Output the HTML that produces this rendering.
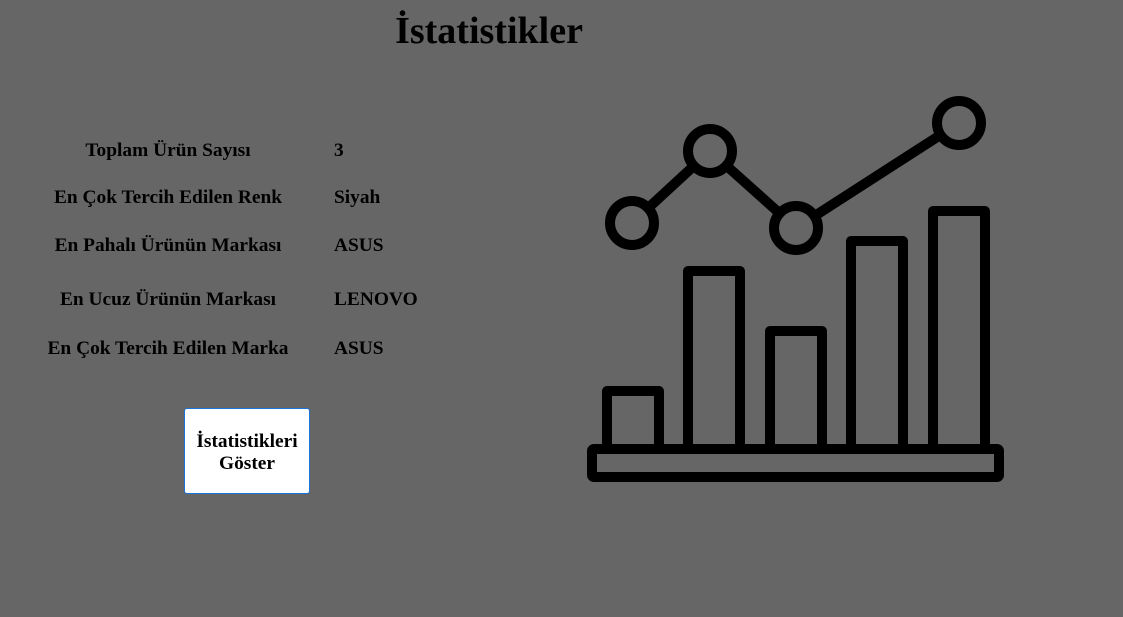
<!DOCTYPE html>
<html><head><meta charset="utf-8"><style>
body{margin:0;width:1123px;height:617px;background:#666666;font-family:"Liberation Serif",serif;color:#000;position:relative;overflow:hidden}
h1{position:absolute;left:0;width:978px;top:10px;margin:0;text-align:center;font-size:38px;font-weight:bold;line-height:42px}
.l{position:absolute;width:290px;left:23px;text-align:center;font-weight:bold;font-size:19.4px;line-height:22px}
.v{position:absolute;left:334px;font-weight:bold;font-size:19.4px;line-height:22px}
button{position:absolute;left:184px;top:408px;width:126px;height:86px;background:#fff;border:1px solid #1a73d9;border-radius:3px;font-family:"Liberation Serif",serif;font-weight:bold;font-size:19.4px;line-height:22px;padding:3px 0 0 0}
svg{position:absolute;left:0;top:0}
</style></head><body>
<h1>İstatistikler</h1>
<div class="l" style="top:140px">Toplam Ürün Sayısı</div>
<div class="v" style="top:140px">3</div>
<div class="l" style="top:187px">En Çok Tercih Edilen Renk</div>
<div class="v" style="top:187px">Siyah</div>
<div class="l" style="top:235px">En Pahalı Ürünün Markası</div>
<div class="v" style="top:235px">ASUS</div>
<div class="l" style="top:289px">En Ucuz Ürünün Markası</div>
<div class="v" style="top:289px">LENOVO</div>
<div class="l" style="top:338px">En Çok Tercih Edilen Marka</div>
<div class="v" style="top:338px">ASUS</div>
<button>İstatistikleri<br>Göster</button>
<svg id="icon" width="1123" height="617"></svg>
<script>
const barTops=[391,271,331,241,211];
const barLefts=[607,688,770,851,933];
const pointX=[632,710,796,959];
const pointY=[223,151,228,123];
const s=document.getElementById('icon');const NS='http://www.w3.org/2000/svg';
function mk(t,a){const e=document.createElementNS(NS,t);for(const k in a)e.setAttribute(k,a[k]);e.setAttribute('fill','none');e.setAttribute('stroke','#000');e.setAttribute('stroke-width','10');e.setAttribute('stroke-linejoin','round');s.appendChild(e);return e;}
const base=mk('rect',{x:592,y:449,width:407,height:28,rx:2});


barTops.forEach((t,i)=>{const b=mk('path',{d:`M${barLefts[i]} 449V${t}H${barLefts[i]+52}V449`});

});
for(let i=0;i<pointX.length-1;i++){const dx=pointX[i+1]-pointX[i],dy=pointY[i+1]-pointY[i],d=Math.hypot(dx,dy),r=22;
const ln=mk('line',{x1:pointX[i]+dx/d*r,y1:pointY[i]+dy/d*r,x2:pointX[i+1]-dx/d*r,y2:pointY[i+1]-dy/d*r});

}
pointX.forEach((x,i)=>{const c=mk('circle',{cx:x,cy:pointY[i],r:22});

});
</script>
</body></html>
